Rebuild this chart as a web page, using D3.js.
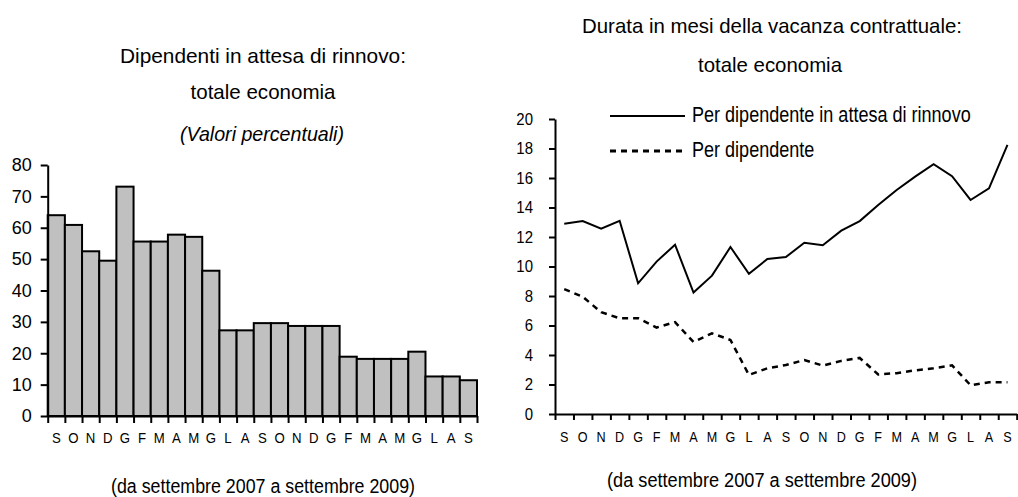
<!DOCTYPE html>
<html>
<head>
<meta charset="utf-8">
<script src="https://cdn.jsdelivr.net/npm/d3@7"></script>
<style>
  body { margin: 0; background: #fff; }
  svg text { font-family: "Liberation Sans", Arial, sans-serif; fill: #000; }
</style>
</head>
<body>
<svg width="1018" height="497"></svg>
<script>
// months from settembre 2007 to settembre 2009
var months = ["S","O","N","D","G","F","M","A","M","G","L","A","S","O","N","D","G","F","M","A","M","G","L","A","S"];

// left chart: dipendenti in attesa di rinnovo (%)
var pctWaiting = [64.0, 60.9, 52.5, 49.5, 73.1, 55.6, 55.6, 57.8, 57.1, 46.3, 27.3, 27.3, 29.6,
                  29.6, 28.7, 28.7, 28.7, 18.9, 18.2, 18.2, 18.2, 20.5, 12.6, 12.6, 11.4];

// right chart: durata in mesi della vacanza contrattuale
var monthsWaiting = [12.9, 13.08, 12.56, 13.1, 8.86, 10.33, 11.48, 8.23, 9.38, 11.32, 9.51, 10.51, 10.64,
                     11.61, 11.44, 12.43, 13.08, 14.17, 15.19, 16.09, 16.93, 16.12, 14.51, 15.3, 18.24];
var monthsAll = [8.47, 7.95, 6.9, 6.49, 6.49, 5.86, 6.23, 4.88, 5.47, 5.02, 2.65, 3.1, 3.32,
                 3.66, 3.28, 3.6, 3.8, 2.68, 2.77, 2.96, 3.1, 3.3, 1.95, 2.15, 2.15];

var pctTicks = [0, 10, 20, 30, 40, 50, 60, 70, 80];
var monthTicks = [0, 2, 4, 6, 8, 10, 12, 14, 16, 18, 20];

var svg = d3.select('svg');

// squeeze text horizontally, the original uses a narrow font
function condense(sel, factor) {
  sel.each(function() {
    var w = this.getComputedTextLength();
    d3.select(this).attr('textLength', w * factor).attr('lengthAdjust', 'spacingAndGlyphs');
  });
}

function styleAxis(g, size) {
  g.select('.domain').attr('stroke', '#000').attr('stroke-width', 2);
  g.selectAll('.tick line').attr('stroke', '#000').attr('stroke-width', 2);
  g.selectAll('text').attr('font-size', size).style('font-family', '"Liberation Sans", Arial, sans-serif').attr('fill', '#000');
}

function label(x, y, size, width, str) {
  return svg.append('text')
    .attr('x', x).attr('y', y)
    .attr('text-anchor', 'middle')
    .attr('font-size', size)
    .attr('textLength', width)
    .attr('lengthAdjust', 'spacingAndGlyphs')
    .text(str);
}

// ---------- left: bar chart ----------
var pl = {l: 47.7, r: 477, t: 165, b: 416};

var xBars = d3.scaleBand()
    .domain(d3.range(months.length))
    .range([pl.l, pl.r])
    .padding(0);

var xBarTicks = d3.scaleLinear()
    .domain([0, months.length])
    .range([pl.l, pl.r]);

var yPct = d3.scaleLinear()
    .domain([0, 80])
    .range([pl.b, pl.t]);

svg.append('g').selectAll('rect')
    .data(pctWaiting)
    .enter()
    .append('rect')
    .attr('x', (d, i) => xBars(i))
    .attr('y', d => yPct(d))
    .attr('width', xBars.bandwidth())
    .attr('height', d => pl.b - yPct(d))
    .attr('fill', '#c0c0c0')
    .attr('stroke', '#000')
    .attr('stroke-width', 2);

svg.append('g')
    .attr('transform', 'translate(' + pl.l + ',0)')
    .call(d3.axisLeft(yPct).tickValues(pctTicks).tickSize(7).tickSizeOuter(0).tickPadding(9))
    .call(g => styleAxis(g, 18));

svg.append('g')
    .attr('transform', 'translate(0,' + pl.b + ')')
    .call(d3.axisBottom(xBarTicks).tickValues(d3.range(months.length + 1)).tickSize(7).tickSizeOuter(0).tickFormat(''))
    .call(g => styleAxis(g, 15));

svg.append('g').selectAll('text')
    .data(months)
    .enter()
    .append('text')
    .attr('x', (d, i) => xBars(i) + xBars.bandwidth() / 2)
    .attr('y', 443)
    .attr('text-anchor', 'middle')
    .attr('font-size', 15)
    .text(d => d)
    .call(condense, 0.88);

// titles left
label(263, 63, 21, 286, 'Dipendenti in attesa di rinnovo:');
label(263, 99, 21, 145, 'totale economia');
label(262, 141, 21, 164, '(Valori percentuali)').attr('font-style', 'italic');
label(263, 493, 20, 304, '(da settembre 2007 a settembre 2009)');

// ---------- right: line chart ----------
var pr = {l: 555, r: 1016.7, t: 119, b: 414};

var xPts = d3.scaleBand()
    .domain(d3.range(months.length))
    .range([pr.l, pr.r])
    .padding(0);

var xPtTicks = d3.scaleLinear()
    .domain([0, months.length])
    .range([pr.l, pr.r]);

var yMonths = d3.scaleLinear()
    .domain([0, 20])
    .range([pr.b, pr.t]);

svg.append('g')
    .attr('transform', 'translate(' + pr.l + ',0)')
    .call(d3.axisLeft(yMonths).tickValues(monthTicks).tickSize(6).tickSizeOuter(0).tickPadding(16))
    .call(g => styleAxis(g, 17))
    .call(g => g.selectAll('text').call(condense, 0.88));

svg.append('g')
    .attr('transform', 'translate(0,' + pr.b + ')')
    .call(d3.axisBottom(xPtTicks).tickValues(d3.range(months.length + 1)).tickSize(6).tickSizeOuter(0).tickFormat(''))
    .call(g => styleAxis(g, 14));

svg.append('g').selectAll('text')
    .data(months)
    .enter()
    .append('text')
    .attr('x', (d, i) => xPts(i) + xPts.bandwidth() / 2)
    .attr('y', 442)
    .attr('text-anchor', 'middle')
    .attr('font-size', 14)
    .text(d => d)
    .call(condense, 0.9);

var line = d3.line()
    .x((d, i) => xPts(i) + xPts.bandwidth() / 2)
    .y(d => yMonths(d));

svg.append('path')
    .datum(monthsAll)
    .attr('fill', 'none')
    .attr('stroke', '#000')
    .attr('stroke-width', 2.5)
    .attr('stroke-dasharray', '6,5')
    .attr('d', line);

svg.append('path')
    .datum(monthsWaiting)
    .attr('fill', 'none')
    .attr('stroke', '#000')
    .attr('stroke-width', 2)
    .attr('d', line);

// legend, narrow text done with a horizontal scale
var legend = svg.append('g');
legend.append('line').attr('x1', 610).attr('x2', 685).attr('y1', 116).attr('y2', 116)
    .attr('stroke', '#000').attr('stroke-width', 2);
legend.append('line').attr('x1', 610).attr('x2', 685).attr('y1', 151).attr('y2', 151)
    .attr('stroke', '#000').attr('stroke-width', 3).attr('stroke-dasharray', '6,5');
legend.append('text')
    .attr('transform', 'translate(692,122) scale(0.82,1)')
    .attr('font-size', 22)
    .text('Per dipendente in attesa di rinnovo');
legend.append('text')
    .attr('transform', 'translate(692,157) scale(0.82,1)')
    .attr('font-size', 22)
    .text('Per dipendente');

// titles right
label(772, 33, 21, 380, 'Durata in mesi della vacanza contrattuale:');
label(770, 72, 21, 144, 'totale economia');
label(762, 487, 20, 310, '(da settembre 2007 a settembre  2009)');
</script>
</body>
</html>
